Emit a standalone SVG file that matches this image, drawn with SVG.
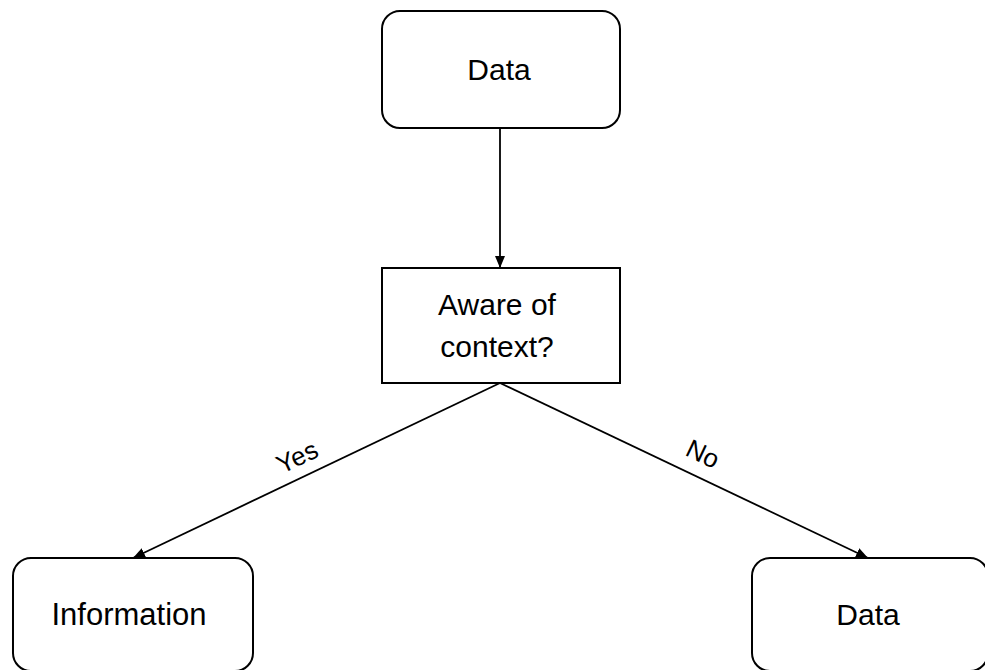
<svg xmlns="http://www.w3.org/2000/svg" width="985" height="670" viewBox="0 0 985 670">
<style>
.box{fill:#fff;stroke:#000;stroke-width:2}
.t{font-family:"Liberation Sans",Arial,sans-serif;font-size:30px;fill:#000;text-anchor:middle}
.lbl{font-family:"Liberation Sans",Arial,sans-serif;font-size:26px;fill:#000;text-anchor:middle}
.edge{stroke:#000;stroke-width:1.8;fill:none;marker-end:url(#ah)}
</style>
<defs>
<marker id="ah" viewBox="0 0 12 10" refX="12" refY="5" markerWidth="12" markerHeight="10" markerUnits="userSpaceOnUse" orient="auto">
<path d="M0,0 L12,5 L0,10 z" fill="#000"/>
</marker>
</defs>
<rect width="985" height="670" fill="#fff"/>
<g id="connectors">
<line class="edge" x1="500" y1="128" x2="500" y2="268"/>
<line class="edge" x1="500" y1="383" x2="133" y2="558"/>
<line class="edge" x1="500" y1="383" x2="868" y2="558"/>
<text class="lbl" transform="translate(301,465) rotate(-25.5)">Yes</text>
<text class="lbl" transform="translate(699,462) rotate(25.5)">No</text>
</g>
<g id="node-data-top">
<rect class="box" x="382" y="11" width="238" height="117" rx="18"/>
<text class="t" x="499" y="80">Data</text>
</g>
<g id="node-aware">
<rect class="box" x="382" y="268" width="238" height="115"/>
<text class="t" x="497" y="315">Aware of</text>
<text class="t" x="497" y="357">context?</text>
</g>
<g id="node-information">
<rect class="box" x="13" y="558" width="240" height="113" rx="18"/>
<text class="t" x="129" y="625" style="font-size:31px">Information</text>
</g>
<g id="node-data-right">
<rect class="box" x="752" y="558" width="236" height="113" rx="18"/>
<text class="t" x="868" y="625">Data</text>
</g>
</svg>
